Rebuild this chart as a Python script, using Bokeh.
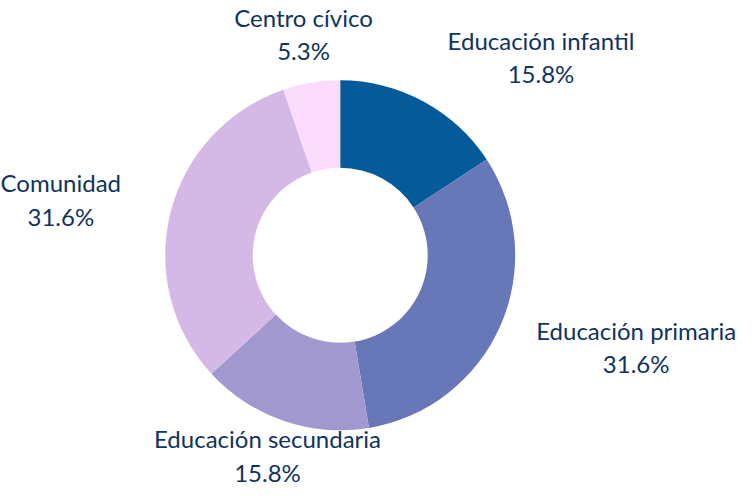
import math
from bokeh.plotting import figure
from bokeh.models import Range1d, ColumnDataSource
from bokeh.core.properties import value
from bokeh.embed import file_html
from bokeh.resources import INLINE

# ---- data ----
categories = ["Educación infantil", "Educación primaria", "Educación secundaria", "Comunidad", "Centro cívico"]
counts = [3, 6, 3, 6, 1]
colors = ["#055b9a", "#6877b7", "#a098cf", "#d4b9e6", "#fcdcfc"]

# ---- layout (pixels) ----
W, H = 740, 486
CX, CY = 339.7, 231.2          # donut centre in plot coords (y up)
R_OUT, R_IN = 175, 87.5
# label centre / name-baseline offsets from the donut centre (dx right, dy down)
label_offsets = [(200.8, -206.8), (296.0, 83.2), (-72.7, 191.5), (-279.4, -64.5), (-36.7, -230.1)]
BASELINE_FIX = 8               # svg text sits ~8px below its anchor
LINE_GAP = 33.4
FONT = value("Lato")
TEXT_COLOR = "#10335f"

total = sum(counts)
starts, ends, pcts = [], [], []
acc = 0
for c in counts:
    t0 = acc / total * 2 * math.pi
    acc += c
    t1 = acc / total * 2 * math.pi
    # clockwise from 12 o'clock -> bokeh anticlockwise from +x
    starts.append(math.pi / 2 - t1)
    ends.append(math.pi / 2 - t0)
    pcts.append(f"{c / total * 100:.1f}%")

src = ColumnDataSource(dict(start=starts, end=ends, color=colors, cat=categories))

p = figure(width=W, height=H, output_backend="svg", toolbar_location=None,
           x_range=Range1d(0, W), y_range=Range1d(0, H), min_border=0)
p.axis.visible = False
p.grid.visible = False
p.outline_line_color = None
p.background_fill_color = "white"
p.border_fill_color = "white"

p.annular_wedge(x=CX, y=CY, inner_radius=R_IN, outer_radius=R_OUT,
                start_angle="start", end_angle="end", fill_color="color",
                line_color=None, source=src)

lx = [CX + dx for dx, dy in label_offsets]
ly = [CY - dy + BASELINE_FIX for dx, dy in label_offsets]
ly2 = [y - LINE_GAP for y in ly]

p.text(x=lx, y=ly, text=categories, text_font=FONT, text_font_size="24px",
       text_color=TEXT_COLOR, text_align="center", text_baseline="alphabetic")
p.text(x=lx, y=ly2, text=pcts, text_font=FONT, text_font_size="24px",
       text_color=TEXT_COLOR, text_align="center", text_baseline="alphabetic")

open("out.html", "w").write(file_html(p, INLINE))
